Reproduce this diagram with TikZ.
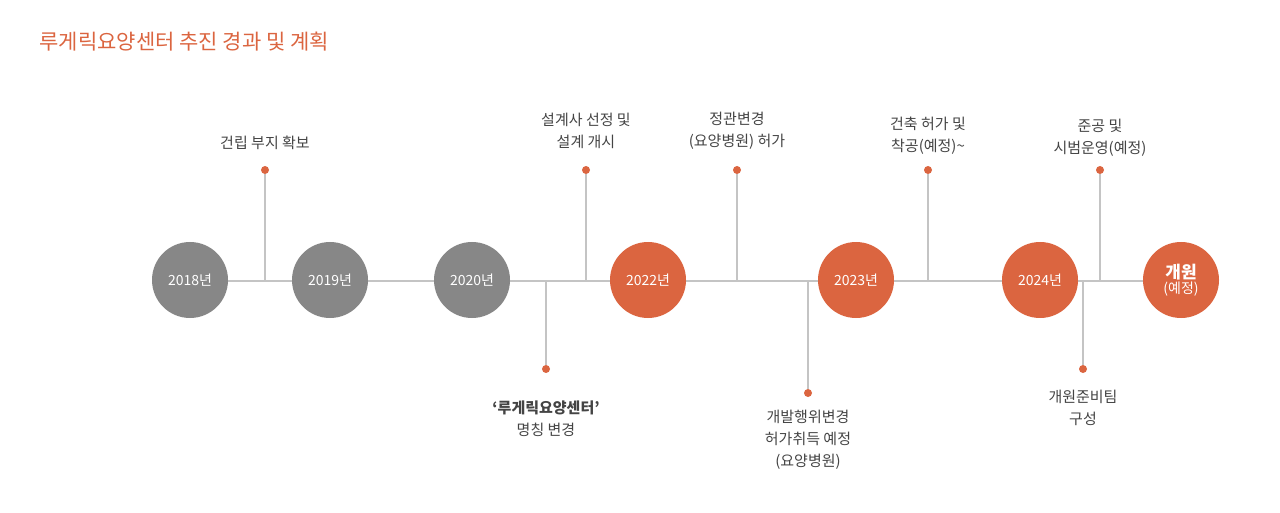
\documentclass[tikz,border=0pt]{standalone}
\usepackage{fontspec}
\setmainfont{Noto Sans CJK KR}
\definecolor{org}{HTML}{DB6540}
\definecolor{gr}{HTML}{878787}
\definecolor{ln}{HTML}{C4C4C4}
\definecolor{tx}{HTML}{444444}
\begin{document}
\begin{tikzpicture}[x=1pt,y=-1pt,
  yr/.style={circle,minimum size=76pt,inner sep=0pt,text=white,font=\fontsize{14}{16}\selectfont},
  gyr/.style={yr,fill=gr},
  oyr/.style={yr,fill=org},
  stem/.style={draw=ln,line width=2.5pt},
  dot/.style={circle,fill=org,inner sep=0pt,minimum size=8pt},
  lbl/.style={align=center,text=tx,font=\fontsize{15}{22}\selectfont}]
\useasboundingbox (0,0) rectangle (1280,513);
\node[anchor=west,text=org,font=\fontsize{21}{24}\selectfont] (title) at (36,42) {루게릭요양센터 추진 경과 및 계획};
\coordinate (ls) at (190,281); \coordinate (le) at (1181,281);
\draw[stem] (ls) -- (le);
\foreach \n/\x/\y in {a/265/170,b/586/170,c/737/170,d/928/170,e/1100/170,f/546/369,g/808/393,h/1083/369}{
  \coordinate (b\n) at (\x,281);
  \node[dot] (d\n) at (\x,\y) {};
  \draw[stem] (b\n) -- (d\n);
}
\node[gyr] (y18) at (190,280) {2018년};
\node[gyr] (y19) at (330,280) {2019년};
\node[gyr] (y20) at (472,280) {2020년};
\node[oyr] (y22) at (648,280) {2022년};
\node[oyr] (y23) at (856,280) {2023년};
\node[oyr] (y24) at (1040,280) {2024년};
\node[oyr,align=center,font=\fontsize{14}{15}\selectfont] (open) at (1181,280) {\textbf{\fontsize{17}{18}\selectfont 개원}\\(예정)};
\node[lbl] (ta) at (265,143) {건립 부지 확보};
\node[lbl] (tb) at (586,131) {설계사 선정 및\\설계 개시};
\node[lbl] (tc) at (737,131) {정관변경\\(요양병원) 허가};
\node[lbl] (td) at (928,136) {건축 허가 및\\착공(예정)\textasciitilde};
\node[lbl] (te) at (1100,138) {준공 및\\시범운영(예정)};
\node[lbl] (tf) at (546,419) {\textbf{‘루게릭요양센터’}\\명칭 변경};
\node[lbl] (tg) at (808,440) {개발행위변경\\허가취득 예정\\(요양병원)};
\node[lbl] (th) at (1083,408) {개원준비팀\\구성};
\end{tikzpicture}
\end{document}
